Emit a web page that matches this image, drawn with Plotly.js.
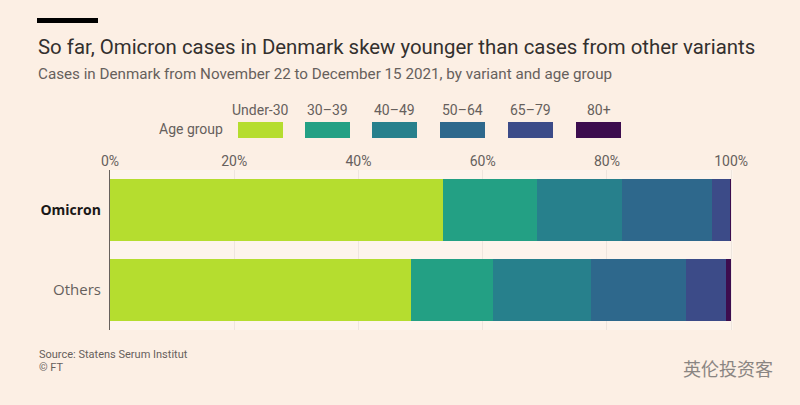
<!DOCTYPE html>
<html>
<head>
<meta charset="utf-8">
<script src="https://cdn.plot.ly/plotly-3.0.1.min.js"></script>
<style>
html,body{margin:0;padding:0;background:#fcefe4;}
#chart{width:800px;height:405px;}
</style>
</head>
<body>
<div id="chart"></div>
<script>
// ---- data ----
var variants = ['Omicron', 'Others'];
var ageGroups = ['Under-30', '30–39', '40–49', '50–64', '65–79', '80+'];
var under30 = [53.6, 48.5];
var age30to39 = [15.2, 13.1];
var age40to49 = [13.7, 15.9];
var age50to64 = [14.4, 15.2];
var age65to79 = [2.9, 6.4];
var age80plus = [0.2, 0.9];
var xTickVals = [0, 20, 40, 60, 80, 100];
var xTickText = ['0%', '20%', '40%', '60%', '80%', '100%'];

var seriesValues = [under30, age30to39, age40to49, age50to64, age65to79, age80plus];
var colors = ['#b5dd2f', '#23a084', '#27808c', '#2e688c', '#3c4b88', '#3d0c4e'];

// ---- layout helpers (pixel -> paper) ----
var W = 800, H = 405;
var mL = 110, mR = 67, mT = 170, mB = 75;
var pw = W - mL - mR, ph = H - mT - mB;
function px(x){ return (x - mL) / pw; }
function py(y){ return (H - mB - y) / ph; }

var traces = seriesValues.map(function(vals, i){
  return {
    type: 'bar',
    orientation: 'h',
    y: variants,
    x: vals,
    name: ageGroups[i],
    marker: {color: colors[i], line: {width: 0}},
    hoverinfo: 'name+x'
  };
});

var shapes = [
  {type:'rect', xref:'paper', yref:'paper', x0:px(37), x1:px(98), y0:py(23), y1:py(18),
   fillcolor:'#000000', line:{width:0}}
];
var annotations = [
  {xref:'paper', yref:'paper', x:px(36), y:py(47), xanchor:'left', yanchor:'middle',
   text:'So far, Omicron cases in Denmark skew younger than cases from other variants',
   showarrow:false, font:{family:'Roboto, sans-serif', size:20.4, color:'#33302e'}},
  {xref:'paper', yref:'paper', x:px(36), y:py(74), xanchor:'left', yanchor:'middle',
   text:'Cases in Denmark from November 22 to December 15 2021, by variant and age group',
   showarrow:false, font:{family:'Roboto, sans-serif', size:15.2, color:'#66605c'}},
  {xref:'paper', yref:'paper', x:px(225), y:py(129), xanchor:'right', yanchor:'middle',
   text:'Age group', showarrow:false, font:{family:'Roboto, sans-serif', size:14, color:'#66605c'}},
  {xref:'paper', yref:'paper', x:px(37), y:py(354), xanchor:'left', yanchor:'middle',
   text:'Source: Statens Serum Institut', showarrow:false,
   font:{family:'Roboto, sans-serif', size:11, color:'#66605c'}},
  {xref:'paper', yref:'paper', x:px(37), y:py(367), xanchor:'left', yanchor:'middle',
   text:'© FT', showarrow:false, font:{family:'Roboto, sans-serif', size:11, color:'#66605c'}},
  {xref:'paper', yref:'paper', x:px(775), y:py(368), xanchor:'right', yanchor:'middle',
   text:'英伦投资客', showarrow:false,
   font:{family:'Noto Sans CJK SC, sans-serif', size:18, color:'#8a8582'}}
];
var swatchX = [238, 305, 372, 440, 508, 576];
ageGroups.forEach(function(g, i){
  var x0 = swatchX[i], x1 = x0 + 45;
  shapes.push({type:'rect', xref:'paper', yref:'paper', x0:px(x0), x1:px(x1),
    y0:py(138), y1:py(122), fillcolor:colors[i], line:{width:0}});
  annotations.push({xref:'paper', yref:'paper', x:px((x0+x1)/2), y:py(110),
    xanchor:'center', yanchor:'middle', text:g, showarrow:false,
    font:{family:'Roboto, sans-serif', size:14, color:'#66605c'}});
});

var layout = {
  width: W, height: H,
  margin: {l: mL, r: mR, t: mT, b: mB, pad: 0},
  paper_bgcolor: '#fcefe4',
  plot_bgcolor: '#fdf4ec',
  barmode: 'stack',
  bargap: 0.225,
  showlegend: false,
  xaxis: {
    side: 'top', range: [0, 100.3], tickvals: xTickVals, ticktext: xTickText,
    showgrid: true, gridcolor: 'rgba(0,0,0,0.06)', zeroline: false, showline: false,
    ticks: '', ticklabelstandoff: 0,
    tickfont: {family: 'Roboto, sans-serif', size: 14, color: '#66605c'},
    fixedrange: true
  },
  yaxis: {
    autorange: 'reversed', showline: true, linecolor: '#66605c', linewidth: 1,
    ticks: '', ticklabelstandoff: 5,
    tickvals: variants,
    ticktext: ['<b><span style="font-size:14px">Omicron</span></b>', '<span style="color:#66605c">Others</span>'],
    tickfont: {family: 'Open Sans, sans-serif', size: 15, color: '#1a1817'},
    showgrid: false, zeroline: false, fixedrange: true
  },
  shapes: shapes,
  annotations: annotations,
  font: {family: 'Roboto, sans-serif'}
};

Plotly.newPlot('chart', traces, layout, {displayModeBar: false, staticPlot: true});
</script>
</body>
</html>
